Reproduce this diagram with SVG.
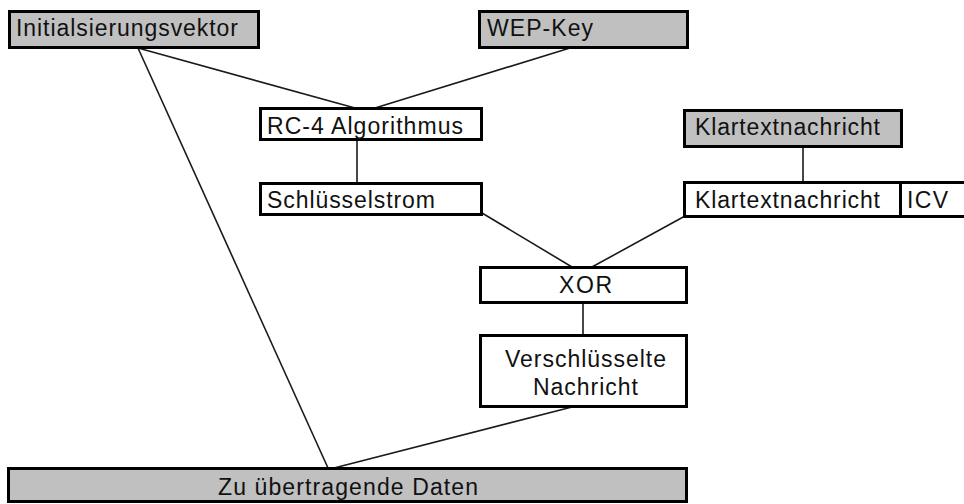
<svg xmlns="http://www.w3.org/2000/svg" width="964" height="504" viewBox="0 0 964 504">
  <style>
    .box { stroke: #000; stroke-width: 3; }
    .grey { fill: #c0c0c0; }
    .white { fill: #fff; }
    .lbl { font-family: "Liberation Sans", Arial, sans-serif; font-size: 23px; fill: #111; }
    .conn line { stroke: #1a1a1a; stroke-width: 1.6; }
  </style>
  <rect width="964" height="504" fill="#fff"/>

  <!-- connectors -->
  <g id="connectors" class="conn">
    <line x1="138" y1="48" x2="355" y2="108"/>
    <line x1="570" y1="48" x2="375" y2="108"/>
    <line x1="138" y1="48" x2="328" y2="468"/>
    <line x1="357" y1="140" x2="357" y2="183"/>
    <line x1="482" y1="213" x2="572" y2="267"/>
    <line x1="685" y1="216" x2="592" y2="267"/>
    <line x1="803" y1="147" x2="803" y2="182"/>
    <line x1="583" y1="303" x2="583" y2="335"/>
    <line x1="572" y1="407" x2="334" y2="468"/>
  </g>

  <g id="iv">
    <rect class="box grey" x="9.5" y="11.5" width="249" height="36"/>
    <text class="lbl" x="16" y="36" textLength="222" lengthAdjust="spacing">Initialsierungsvektor</text>
  </g>

  <g id="wepkey">
    <rect class="box grey" x="479.5" y="11.5" width="208" height="36"/>
    <text class="lbl" x="487" y="36" textLength="106" lengthAdjust="spacing">WEP-Key</text>
  </g>

  <g id="rc4">
    <rect class="box white" x="260.5" y="108.5" width="221" height="31"/>
    <text class="lbl" x="267" y="134" textLength="196" lengthAdjust="spacing">RC-4 Algorithmus</text>
  </g>

  <g id="keystream">
    <rect class="box white" x="260.5" y="183.5" width="221" height="31"/>
    <text class="lbl" x="267" y="208" textLength="168" lengthAdjust="spacing">Schlüsselstrom</text>
  </g>

  <g id="plaintext-in">
    <rect class="box grey" x="684.5" y="110.5" width="217" height="36"/>
    <text class="lbl" x="695" y="135" textLength="185" lengthAdjust="spacing">Klartextnachricht</text>
  </g>

  <g id="plaintext-icv">
    <rect class="box white" x="684.5" y="182.5" width="216" height="34"/>
    <text class="lbl" x="695" y="208" textLength="185" lengthAdjust="spacing">Klartextnachricht</text>
    <rect class="box white" x="900.5" y="182.5" width="70" height="34"/>
    <text class="lbl" x="907" y="208" textLength="41" lengthAdjust="spacing">ICV</text>
  </g>

  <g id="xor">
    <rect class="box white" x="480.5" y="267.5" width="206" height="35"/>
    <text class="lbl" x="559" y="293" textLength="53" lengthAdjust="spacing">XOR</text>
  </g>

  <g id="ciphertext">
    <rect class="box white" x="480.5" y="335.5" width="206" height="71"/>
    <text class="lbl" x="505" y="367" textLength="161" lengthAdjust="spacing">Verschlüsselte</text>
    <text class="lbl" x="533" y="395" textLength="105" lengthAdjust="spacing">Nachricht</text>
  </g>

  <g id="output">
    <rect class="box grey" x="8.5" y="468.5" width="678" height="33"/>
    <text class="lbl" x="218" y="495" textLength="260" lengthAdjust="spacing">Zu übertragende Daten</text>
  </g>
</svg>
